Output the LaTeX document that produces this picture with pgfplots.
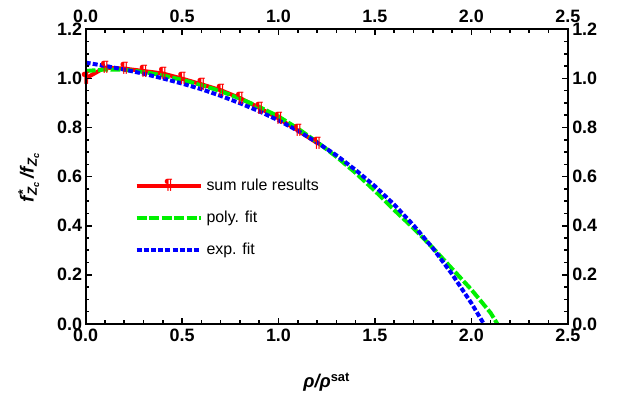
\documentclass[border=0pt]{standalone}
\usepackage{fontspec}
\setmainfont{Liberation Sans}
\usepackage{pgfplots}
\pgfplotsset{compat=1.18}
\usetikzlibrary{calc}

\definecolor{sumred}{RGB}{255,0,0}
\definecolor{polygreen}{RGB}{0,240,0}
\definecolor{expblue}{RGB}{0,0,255}

\pgfplotsset{
  frame/.style={
    scale only axis,
    width=482.7bp, height=295bp,
    xmin=0, xmax=2.5, ymin=0, ymax=1.2,
    xtick={0,0.5,...,2.5}, ytick={0,0.2,...,1.2},
    minor x tick num=4, minor y tick num=3,
    tick align=inside,
    major tick length=6bp, minor tick length=3.5bp,
    axis line style={line width=2.2bp},
    every tick/.style={line width=1.6bp, black},
    tick label style={font=\fontsize{18}{18}\selectfont\bfseries},
    /pgf/number format/assume math mode=true,
    /pgf/number format/fixed,
    /pgf/number format/fixed zerofill,
    /pgf/number format/precision=1,
  },
}

\begin{document}
\begin{tikzpicture}
\begin{axis}[
    frame,
    tick pos=both,
    xticklabel pos=lower, yticklabel pos=left,
    xticklabel style={yshift=-2bp},
    xlabel={\fontsize{18.5}{18.5}\selectfont\bfseries{\itshape ρ/ρ}\textsuperscript{sat}},
    ylabel={\fontsize{19}{19}\selectfont\bfseries\itshape f\rlap{\textsuperscript{*}}\textsubscript{Z\textsubscript{c}}\,/f\textsubscript{Z\textsubscript{c}}},
    xlabel style={at={(axis description cs:0.5,-0.197)}, anchor=center},
    ylabel style={at={(axis description cs:-0.118,0.497)}, anchor=center},
    legend cell align=left,
    legend style={draw=none, fill=none, at={(axis description cs:0.095,0.506)}, anchor=north west,
      font=\fontsize{16}{16}\selectfont, row sep=15bp,
      nodes={inner xsep=4bp}},
    legend image code/.code={\draw[mark repeat=2, mark phase=2, #1]
      plot coordinates {(0bp,0bp) (32bp,0bp) (64bp,0bp)};},
]
\addplot[sumred, line width=4bp, mark=text,
  text mark={\textcolor{sumred}{\fontsize{15}{15}\selectfont\bfseries ¶}}] coordinates {
  (0.0,1.000) (0.1,1.044) (0.2,1.040) (0.3,1.030) (0.4,1.020) (0.5,0.999)
  (0.6,0.976) (0.7,0.952) (0.8,0.920) (0.9,0.880) (1.0,0.837) (1.1,0.788)
  (1.2,0.737)
};
\addlegendentry{sum rule results}
\addplot[polygreen, line width=4bp, dash pattern=on 10bp off 2.5bp] coordinates {
  (0.0,1.030) (0.1,1.036) (0.2,1.035) (0.3,1.026) (0.4,1.012) (0.5,0.994)
  (0.6,0.973) (0.7,0.948) (0.8,0.918) (0.9,0.884) (1.0,0.845) (1.1,0.796)
  (1.2,0.741) (1.3,0.681) (1.4,0.615) (1.5,0.542) (1.6,0.464) (1.7,0.390)
  (1.8,0.310) (1.9,0.225) (2.0,0.140) (2.1,0.045) (2.135,0.0)
};
\addlegendentry{poly. fit}
\addplot[expblue, line width=4bp, dash pattern=on 5bp off 2.2bp] coordinates {
  (0.0,1.064) (0.1,1.051) (0.2,1.036) (0.3,1.019) (0.4,1.000) (0.5,0.979)
  (0.6,0.956) (0.7,0.929) (0.8,0.899) (0.9,0.866) (1.0,0.829) (1.1,0.787)
  (1.2,0.739) (1.3,0.687) (1.4,0.627) (1.5,0.561) (1.6,0.486) (1.7,0.402)
  (1.8,0.309) (1.9,0.203) (2.0,0.085) (2.065,0.0)
};
\addlegendentry{exp. fit}
\end{axis}
\begin{axis}[
    frame,
    tick pos=both,
    xticklabel pos=upper, yticklabel pos=right,
    xticklabel style={yshift=3bp},
    yticklabel style={xshift=1bp},
]
\addplot[draw=none] coordinates {(0,0)};
\end{axis}
\useasboundingbox ($(current axis.south west)+(-85.7bp,-78bp)$) rectangle ($(current axis.north east)+(54.3bp,29.3bp)$);
\end{tikzpicture}
\end{document}
